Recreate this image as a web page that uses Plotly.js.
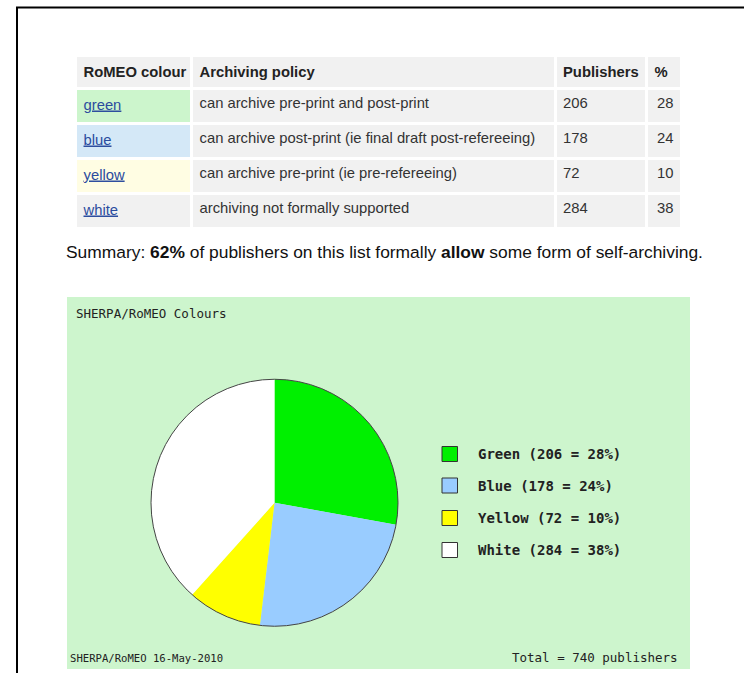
<!DOCTYPE html>
<html>
<head>
<meta charset="utf-8">
<script src="https://cdn.plot.ly/plotly-3.0.1.min.js"></script>
<style>html,body{margin:0;padding:0;background:#fff;}#chart{width:744px;height:673px;}</style>
</head>
<body>
<div id="chart"></div>
<script>
// ---- data ----
const colourNames = ['green', 'blue', 'yellow', 'white'];
const legendNames = ['Green', 'Blue', 'Yellow', 'White'];
const policies = [
  'can archive pre-print and post-print',
  'can archive post-print (ie final draft post-refereeing)',
  'can archive pre-print (ie pre-refereeing)',
  'archiving not formally supported'
];
const publishers = [206, 178, 72, 284];
const percents = [28, 24, 10, 38];
const tableHeaders = ['RoMEO colour', 'Archiving policy', 'Publishers', '%'];
const summaryPct = 62;
const totalPublishers = 740;
const chartTitle = 'SHERPA/RoMEO Colours';
const footerLeft = 'SHERPA/RoMEO 16-May-2010';

// ---- styles ----
const W = 744, H = 673;
const px = x => x / W;
const py = y => 1 - y / H;
const nb = s => String(s).replace(/ /g, '\u00a0');
const pieColours = ['#00f000', '#99ccff', '#ffff00', '#ffffff'];
const cellTints = ['#ccf5cc', '#d4e8f7', '#fffde3', '#f1f1f1'];
const grey = '#f1f1f1';
const linkColour = '#2b4c9e';
const mono = '"DejaVu Sans Mono", "Liberation Mono", monospace';
const sans = '"Liberation Sans", Arial, sans-serif';

const colourLinks = colourNames.map(c =>
  '<a href="https://www.sherpa.ac.uk/romeo/"style="text-decoration:underline;fill:' + linkColour + ';color:' + linkColour + '">' + c + '</a>');

const table = {
  type: 'table',
  domain: {x: [px(75.5), px(681.5)], y: [py(245), py(55.5)]},
  columnwidth: [116, 363.5, 91.5, 35],
  header: {
    values: tableHeaders.map(h => '<b>' + nb(h) + '</b>'),
    align: 'left',
    height: 33,
    fill: {color: grey},
    line: {color: '#ffffff', width: 3},
    font: {family: sans, size: 14.8, color: '#222'}
  },
  cells: {
    values: [colourLinks, policies.map(nb), publishers, percents],
    align: ['left', 'left', 'left', 'right'],
    height: 35,
    fill: {color: [cellTints, policies.map(() => grey), publishers.map(() => grey), percents.map(() => grey)]},
    line: {color: '#ffffff', width: 3},
    font: {family: sans, size: 14.8, color: [colourNames.map(() => linkColour), policies.map(() => '#333'), publishers.map(() => '#333'), percents.map(() => '#333')]}
  }
};

const pieDomain = {x: [px(151), px(398)], y: [py(626.5), py(379)]};
const pie = {
  type: 'pie',
  labels: legendNames,
  values: publishers,
  sort: false,
  direction: 'clockwise',
  rotation: 0,
  textinfo: 'none',
  hoverinfo: 'label+value+percent',
  marker: {colors: pieColours, line: {width: 0}},
  domain: pieDomain,
  showlegend: false
};
const outline = {
  type: 'pie',
  labels: ['all'],
  values: [totalPublishers],
  sort: false,
  textinfo: 'none',
  hoverinfo: 'skip',
  marker: {colors: ['rgba(0,0,0,0)'], line: {color: '#444', width: 1}},
  domain: pieDomain,
  showlegend: false
};

const shapes = [
  // page frame
  {type: 'line', xref: 'paper', yref: 'paper', x0: px(17), x1: px(17), y0: py(7), y1: py(680), line: {color: '#000', width: 2}},
  {type: 'line', xref: 'paper', yref: 'paper', x0: px(16), x1: px(760), y0: py(7.5), y1: py(7.5), line: {color: '#000', width: 2}},
  // chart panel
  {type: 'rect', xref: 'paper', yref: 'paper', x0: px(67), x1: px(690), y0: py(297), y1: py(669), fillcolor: '#cdf5cd', line: {width: 0}, layer: 'below'}
];
const annotations = [
  {xref: 'paper', yref: 'paper', x: px(64), y: py(252), xanchor: 'left', yanchor: 'middle', showarrow: false,
   text: 'Summary: <b>' + summaryPct + '%</b> of publishers on this list formally <b>allow</b> some form of self-archiving.',
   font: {family: sans, size: 17.4, color: '#111'}},
  {xref: 'paper', yref: 'paper', x: px(74), y: py(313), xanchor: 'left', yanchor: 'middle', showarrow: false,
   text: chartTitle, font: {family: mono, size: 12.5, color: '#222'}},
  {xref: 'paper', yref: 'paper', x: px(68), y: py(658), xanchor: 'left', yanchor: 'middle', showarrow: false,
   text: footerLeft, font: {family: mono, size: 10.6, color: '#222'}},
  {xref: 'paper', yref: 'paper', x: px(680), y: py(657), xanchor: 'right', yanchor: 'middle', showarrow: false,
   text: 'Total = ' + totalPublishers + ' publishers', font: {family: mono, size: 12.5, color: '#222'}}
];
// custom legend
const legendY = [454, 485.5, 518, 550];
legendNames.forEach((name, i) => {
  const cy = legendY[i];
  shapes.push({type: 'rect', xref: 'paper', yref: 'paper', x0: px(442), x1: px(457.5), y0: py(cy + 7.5), y1: py(cy - 7.5),
    fillcolor: pieColours[i], line: {color: '#333', width: 1}});
  annotations.push({xref: 'paper', yref: 'paper', x: px(476), y: py(cy), xanchor: 'left', yanchor: 'middle', showarrow: false,
    text: '<b>' + name + ' (' + publishers[i] + ' = ' + percents[i] + '%)</b>', font: {family: mono, size: 14, color: '#222'}});
});

const layout = {
  width: W, height: H,
  margin: {l: 0, r: 0, t: 0, b: 0},
  paper_bgcolor: '#ffffff',
  showlegend: false,
  shapes: shapes,
  annotations: annotations
};
Plotly.newPlot('chart', [table, pie, outline], layout, {displayModeBar: false, staticPlot: true});
</script>
</body>
</html>
